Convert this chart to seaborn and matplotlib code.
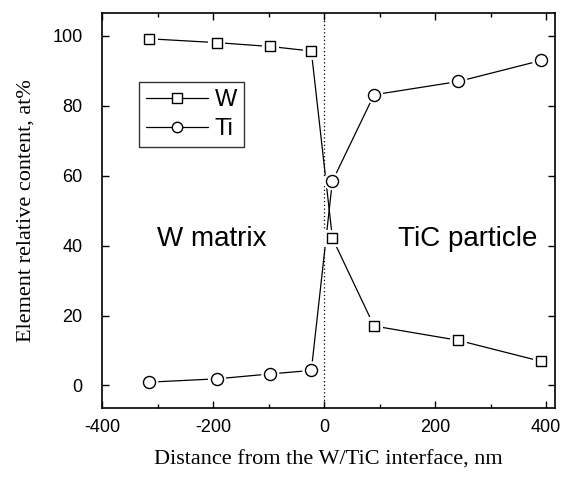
import matplotlib
matplotlib.use("Agg")
import matplotlib.pyplot as plt
import seaborn as sns
import pandas as pd
from matplotlib.lines import Line2D
from matplotlib.ticker import MultipleLocator

distance = [-315, -193, -97, -23, 15, 90, 242, 391]
w_content = [99.1, 98.0, 96.9, 95.6, 42.1, 17.0, 12.9, 6.9]
ti_content = [0.95, 1.9, 3.3, 4.3, 58.4, 83.1, 86.9, 92.9]
series_names = ["W", "Ti"]
xticks = [-400, -200, 0, 200, 400]
yticks = [0, 20, 40, 60, 80, 100]

df = pd.DataFrame({
    "distance": distance * 2,
    "content": w_content + ti_content,
    "element": ["W"] * len(distance) + ["Ti"] * len(distance),
})

sns.set_theme(style="ticks")
plt.rcParams["font.family"] = ["Liberation Sans", "DejaVu Sans"]
plt.rcParams["axes.unicode_minus"] = False
plt.rcParams["text.color"] = "black"
plt.rcParams["axes.labelcolor"] = "black"
plt.rcParams["xtick.color"] = "black"
plt.rcParams["ytick.color"] = "black"

fig = plt.figure(figsize=(5.64, 4.78), dpi=100)
ax = fig.add_axes([0.181, 0.146, 0.803, 0.827])

markers = {"W": "s", "Ti": "o"}
sns.lineplot(data=df, x="distance", y="content", hue="element",
             palette={"W": "black", "Ti": "black"}, linewidth=0.9,
             legend=False, ax=ax, zorder=2)
for el in series_names:
    sub = df[df["element"] == el]
    sns.scatterplot(data=sub, x="distance", y="content", marker=markers[el],
                    s=170 if el == "Ti" else 150, color="white", edgecolor="none",
                    linewidth=0, legend=False, ax=ax, zorder=3)
    sns.scatterplot(data=sub, x="distance", y="content", marker=markers[el],
                    s=75 if el == "Ti" else 60, facecolor="white", edgecolor="black",
                    linewidth=1.0, legend=False, ax=ax, zorder=4)

ax.axvline(0, color="black", linestyle=(0, (1, 2)), linewidth=0.9, zorder=1)

ax.set_xlim(-400, 416)
ax.set_ylim(-6.5, 106.5)
ax.set_xticks(xticks)
ax.set_yticks(yticks)
ax.xaxis.set_minor_locator(MultipleLocator(100))
ax.tick_params(which="both", direction="in", top=True, right=True, colors="black")
ax.tick_params(which="major", length=5, width=1)
ax.tick_params(which="minor", length=3, width=1)
ax.tick_params(axis="x", which="major", labelsize=13, pad=8)
ax.tick_params(axis="y", which="major", labelsize=13, pad=14)
for sp in ax.spines.values():
    sp.set_visible(True)
    sp.set_color("black")
    sp.set_linewidth(1.2)

ax.set_xlabel("Distance from the W/TiC interface, nm", fontsize=16, color="black",
              family=["Liberation Serif", "DejaVu Serif"], labelpad=10)
ax.set_ylabel("Element relative content, at%", fontsize=16, color="black",
              family=["Liberation Serif", "DejaVu Serif"], labelpad=12)

ax.text(-202, 42, "W matrix", fontsize=20, ha="center", va="center", color="black")
ax.text(259, 42, "TiC particle", fontsize=20, ha="center", va="center", color="black")

handles = [Line2D([], [], color="black", lw=0.9, marker=markers[el], markersize=7.5,
                  markerfacecolor="white", markeredgecolor="black") for el in series_names]
leg = ax.legend(handles, series_names, loc="upper left", bbox_to_anchor=(0.082, 0.825),
                fontsize=17, frameon=True, fancybox=False, edgecolor="black",
                handlelength=2.6, borderpad=0.3, labelspacing=0.3, handletextpad=0.3,
                borderaxespad=0)
leg.get_frame().set_linewidth(1.0)
for t in leg.get_texts():
    t.set_color("black")

fig.savefig("out.png", dpi=100)
